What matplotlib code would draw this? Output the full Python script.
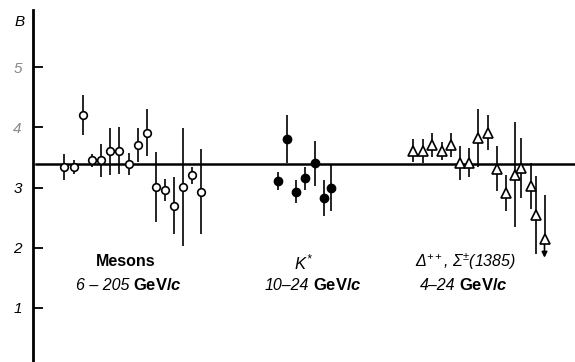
import numpy as np
import matplotlib
matplotlib.use("Agg")
import matplotlib.pyplot as plt

plt.rcParams['font.family'] = ['Liberation Sans', 'DejaVu Sans']
plt.rcParams['mathtext.fontset'] = 'custom'
plt.rcParams['mathtext.it'] = 'Liberation Sans:italic'
plt.rcParams['mathtext.rm'] = 'Liberation Sans:italic'
plt.rcParams['mathtext.bf'] = 'Liberation Sans:bold:italic'

# mean value of B (horizontal line)
b_mean = 3.39

# mesons, 6-205 GeV/c
meson_x = [64, 74, 82.7, 91.7, 100.7, 110, 119.3, 128.7, 138, 147.3, 156, 165.3, 174, 182.7, 192, 200.7]
meson_b = [3.34, 3.34, 4.21, 3.45, 3.45, 3.60, 3.61, 3.39, 3.71, 3.91, 3.01, 2.96, 2.70, 3.01, 3.20, 2.93]
meson_err = [0.22, 0.11, 0.33, 0.11, 0.28, 0.39, 0.39, 0.18, 0.28, 0.39, 0.58, 0.18, 0.48, 0.98, 0.14, 0.71]

# K*, 10-24 GeV/c
kstar_x = [278.3, 286.7, 296, 305, 315, 323.5, 331.3]
kstar_b = [3.11, 3.80, 2.93, 3.15, 3.40, 2.82, 2.99]
kstar_err = [0.15, 0.40, 0.19, 0.19, 0.37, 0.30, 0.38]

# Delta++, Sigma(1385), 4-24 GeV/c
delta_x = [413.3, 422.7, 432.3, 442, 451, 460, 469.3, 478.3, 488.3, 496.7, 506, 515, 521.3, 530.5, 535.5]
delta_b = [3.61, 3.61, 3.71, 3.61, 3.71, 3.41, 3.41, 3.82, 3.91, 3.31, 2.91, 3.21, 3.32, 3.03, 2.54]
delta_err = [0.19, 0.20, 0.20, 0.15, 0.20, 0.28, 0.24, 0.48, 0.29, 0.375, 0.30, 0.875, 0.50, 0.38, 0.65]

# last Delta point: upper limit
lim_x = 544.5
lim_b = 2.14
lim_up = 0.74
lim_arrow = 1.83

fig = plt.figure(figsize=(5.75, 3.62), dpi=100)
ax = fig.add_axes([33/575, 0, 542/575, 352/362])
ax.set_xlim(33, 575)
ax.set_ylim(0.092, 5.958)

for s in ['top', 'right', 'bottom']:
    ax.spines[s].set_visible(False)
ax.spines['left'].set_linewidth(2)
ax.set_xticks([])
ax.set_yticks([1, 2, 3, 4, 5])
ax.set_yticklabels(['1', '2', '3', '4', '5'], fontstyle='italic', fontsize=11)
ax.tick_params(axis='y', direction='in', length=7, width=1.3, pad=8)
for lbl in ax.get_yticklabels():
    if lbl.get_text() in ('4', '5'):
        lbl.set_color('#888888')

ax.axhline(b_mean, xmin=3/542, xmax=1, lw=1.8, color='black', zorder=1)

ax.errorbar(meson_x, meson_b, yerr=meson_err, fmt='o', mfc='white', mec='black',
            ecolor='black', elinewidth=1.2, ms=5.5, mew=1.2, capsize=0, zorder=3)
ax.errorbar(kstar_x, kstar_b, yerr=kstar_err, fmt='o', mfc='black', mec='black',
            ecolor='black', elinewidth=1.2, ms=6, mew=1.0, capsize=0, zorder=3)
ax.errorbar(delta_x, delta_b, yerr=delta_err, fmt='^', mfc='white', mec='black',
            ecolor='black', elinewidth=1.2, ms=6.5, mew=1.2, capsize=0, zorder=3)
ax.errorbar([lim_x], [lim_b], yerr=[[0], [lim_up]], fmt='^', mfc='white', mec='black',
            ecolor='black', elinewidth=1.2, ms=6.5, mew=1.2, capsize=0, zorder=3)
ax.annotate('', xy=(lim_x, lim_arrow), xytext=(lim_x, lim_b),
            arrowprops=dict(arrowstyle='-|>', lw=1.2, color='black', mutation_scale=8,
                            shrinkA=0, shrinkB=0))

fig.text(20/575, 1 - 22/362, 'B', fontstyle='italic', fontsize=11, ha='center', va='center')


def px(x, y):
    return x / 575, 1 - y / 362


unit = r'GeV/$\mathbf{c}$'

# group labels: italic momentum range + bold unit
fig.text(*px(126, 262), 'Mesons', fontweight='bold', ha='center', va='center', fontsize=11.5)
fig.text(*px(129, 285), '6 – 205', fontstyle='italic', ha='right', va='center', fontsize=11.5)
fig.text(*px(133, 285), unit, fontweight='bold', ha='left', va='center', fontsize=12)

fig.text(*px(304, 262), r'$K^{*}$', ha='center', va='center', fontsize=12)
fig.text(*px(309, 285), '10–24', fontstyle='italic', ha='right', va='center', fontsize=11.5)
fig.text(*px(313, 285), unit, fontweight='bold', ha='left', va='center', fontsize=12)

fig.text(*px(466, 262), r'$Δ^{++}$, $Σ^{±}(1385)$', fontstyle='italic',
         ha='center', va='center', fontsize=11.5)
fig.text(*px(455, 285), '4–24', fontstyle='italic', ha='right', va='center', fontsize=11.5)
fig.text(*px(459, 285), unit, fontweight='bold', ha='left', va='center', fontsize=12)

fig.savefig('out.png', dpi=100)
